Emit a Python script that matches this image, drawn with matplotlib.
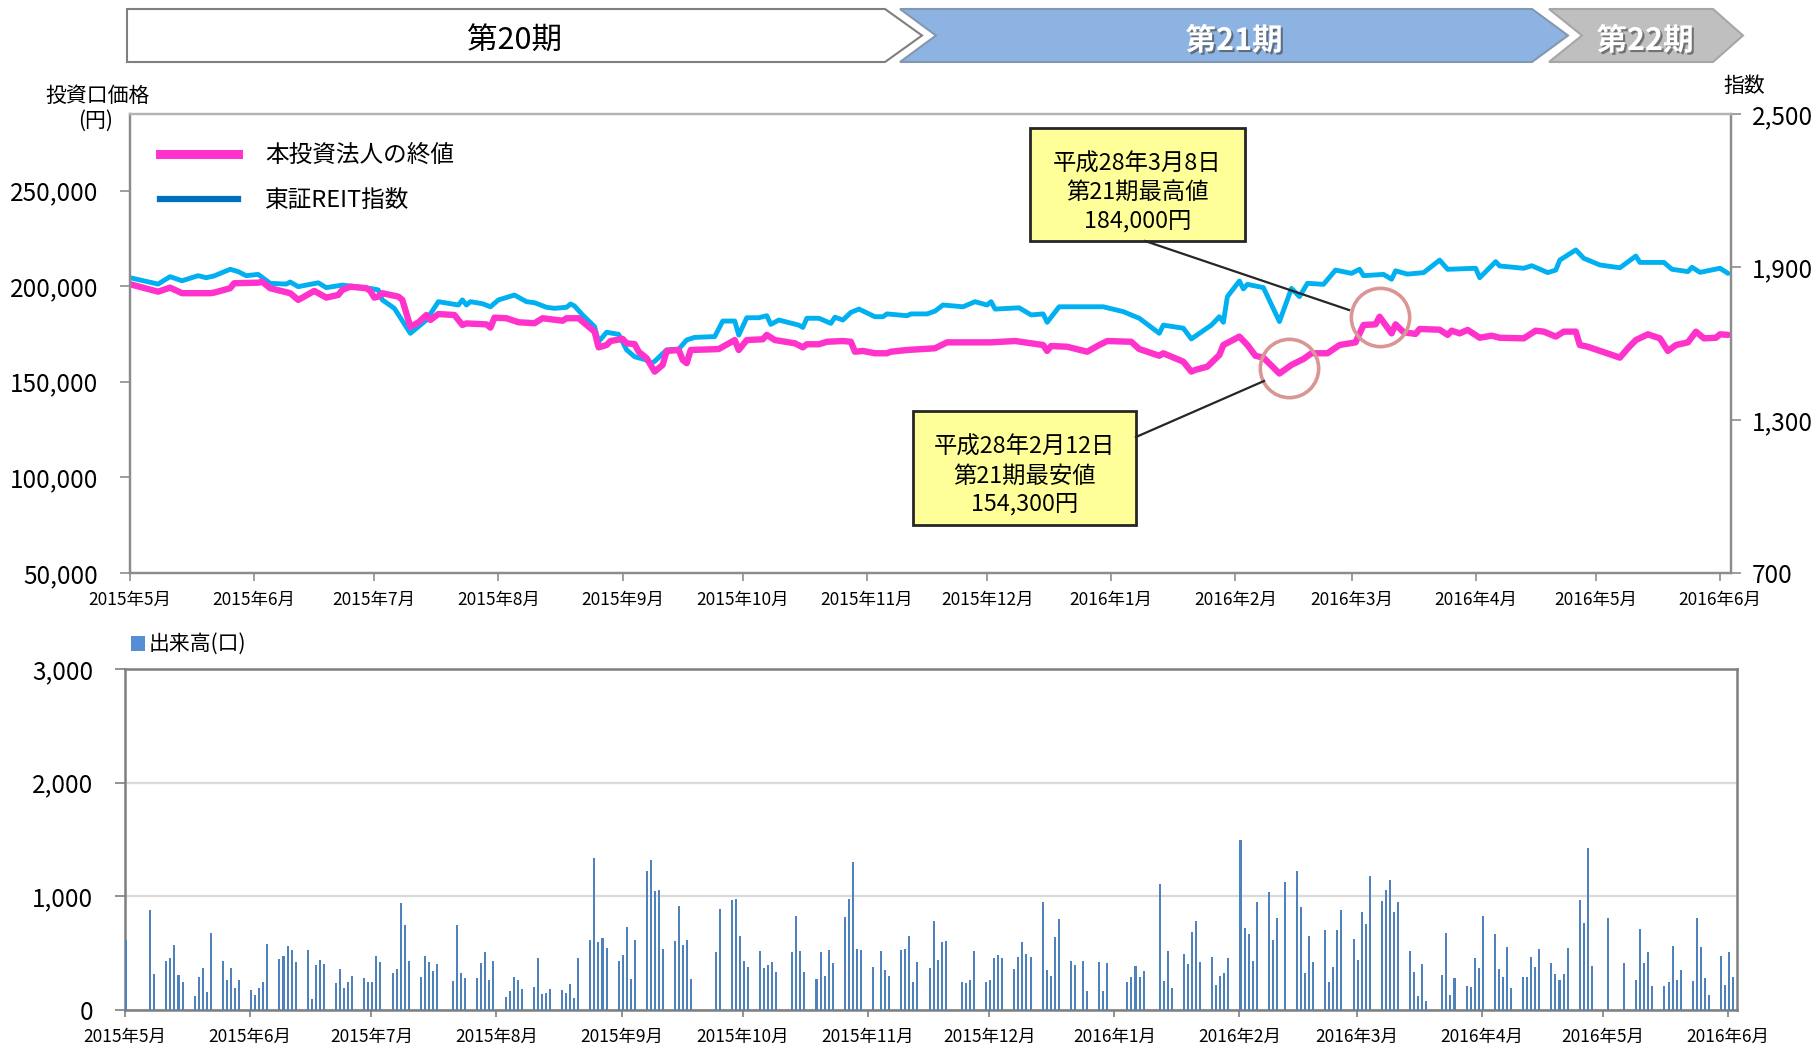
import matplotlib
matplotlib.use('Agg')
import matplotlib.pyplot as plt
import matplotlib.patheffects as pe
from matplotlib.patches import Polygon, Rectangle
from matplotlib.lines import Line2D
from matplotlib.ticker import FuncFormatter
from matplotlib.transforms import offset_copy
import pandas as pd

plt.rcParams['font.family'] = ['Noto Sans CJK JP', 'DejaVu Sans']

W, H = 1819, 1044

# 本投資法人の終値 (円)
price_dates = [
    '2015-05-01', '2015-05-08', '2015-05-11', '2015-05-14', '2015-05-21', '2015-05-22', '2015-05-26',
    '2015-05-27', '2015-06-02', '2015-06-03', '2015-06-05', '2015-06-09', '2015-06-10', '2015-06-12',
    '2015-06-13', '2015-06-16', '2015-06-19', '2015-06-22', '2015-06-23', '2015-06-25', '2015-06-29',
    '2015-06-30', '2015-07-01', '2015-07-02', '2015-07-03', '2015-07-07', '2015-07-08', '2015-07-10',
    '2015-07-12', '2015-07-14', '2015-07-15', '2015-07-17', '2015-07-21', '2015-07-23', '2015-07-24',
    '2015-07-29', '2015-07-30', '2015-07-31', '2015-08-03', '2015-08-06', '2015-08-10', '2015-08-12',
    '2015-08-17', '2015-08-18', '2015-08-21', '2015-08-25', '2015-08-26', '2015-08-28', '2015-08-29',
    '2015-09-01', '2015-09-02', '2015-09-04', '2015-09-05', '2015-09-07', '2015-09-09', '2015-09-11',
    '2015-09-12', '2015-09-15', '2015-09-16', '2015-09-17', '2015-09-18', '2015-09-25', '2015-09-29',
    '2015-09-30', '2015-10-02', '2015-10-06', '2015-10-07', '2015-10-09', '2015-10-14', '2015-10-16',
    '2015-10-17', '2015-10-20', '2015-10-22', '2015-10-26', '2015-10-28', '2015-10-29', '2015-10-31',
    '2015-11-03', '2015-11-06', '2015-11-07', '2015-11-11', '2015-11-18', '2015-11-21', '2015-12-02',
    '2015-12-08', '2015-12-15', '2015-12-16', '2015-12-17', '2015-12-21', '2015-12-26', '2015-12-29',
    '2015-12-31', '2016-01-06', '2016-01-08', '2016-01-13', '2016-01-14', '2016-01-19', '2016-01-21',
    '2016-01-22', '2016-01-25', '2016-01-28', '2016-01-29', '2016-02-02', '2016-02-04', '2016-02-06',
    '2016-02-08', '2016-02-12', '2016-02-15', '2016-02-18', '2016-02-20', '2016-02-24', '2016-02-27',
    '2016-03-02', '2016-03-04', '2016-03-07', '2016-03-08', '2016-03-11', '2016-03-12', '2016-03-14',
    '2016-03-17', '2016-03-18', '2016-03-23', '2016-03-25', '2016-03-26', '2016-03-28', '2016-03-30',
    '2016-04-02', '2016-04-05', '2016-04-07', '2016-04-13', '2016-04-16', '2016-04-18', '2016-04-21',
    '2016-04-23', '2016-04-26', '2016-04-27', '2016-04-29', '2016-05-07', '2016-05-09', '2016-05-11',
    '2016-05-14', '2016-05-17', '2016-05-19', '2016-05-21', '2016-05-24', '2016-05-26', '2016-05-28',
    '2016-05-31', '2016-06-01', '2016-06-03']
price_values = [
    201000, 197100, 199200, 196300, 196300, 196600, 198900,
    201500, 201800, 202300, 198900, 196800, 196300, 192800,
    193900, 197500, 194000, 195400, 198000, 199700, 198900,
    197500, 194000, 194500, 196300, 194500, 192800, 178800,
    181000, 184900, 182300, 185400, 184900, 179700, 180500,
    180000, 178300, 183500, 183200, 181100, 180600, 183200,
    181900, 183200, 183200, 176200, 168000, 169200, 171300,
    172400, 170100, 169700, 165700, 162300, 155300, 158800,
    166100, 166600, 161400, 159700, 166600, 167100, 171800,
    166600, 171800, 172200, 174500, 171800, 170100, 168000,
    169600, 169600, 170900, 171300, 170900, 165700, 166100,
    164900, 164900, 165700, 166600, 167500, 170600, 170600,
    171300, 169200, 166100, 168700, 168300, 165700, 169200,
    171300, 170900, 167100, 163600, 164900, 160500, 155300,
    156200, 157900, 164000, 169200, 173600, 169200, 163600,
    162600, 154300, 158800, 161900, 164900, 164900, 169200,
    170600, 179700, 180000, 184000, 175300, 180000, 175900,
    175000, 177600, 177200, 174500, 176700, 175300, 177100,
    173000, 174100, 173000, 172700, 176700, 176200, 173600,
    176200, 176200, 169200, 168300, 162600, 167500, 171800,
    174800, 172700, 166100, 169200, 170600, 176200, 172700,
    173000, 174800, 174500]

# 東証REIT指数
reit_dates = [
    '2015-05-01', '2015-05-08', '2015-05-11', '2015-05-14', '2015-05-18', '2015-05-20', '2015-05-22',
    '2015-05-26', '2015-05-28', '2015-05-30', '2015-06-02', '2015-06-05', '2015-06-09', '2015-06-10',
    '2015-06-12', '2015-06-17', '2015-06-19', '2015-06-23', '2015-06-30', '2015-07-02', '2015-07-03',
    '2015-07-06', '2015-07-10', '2015-07-14', '2015-07-17', '2015-07-22', '2015-07-23', '2015-07-24',
    '2015-07-25', '2015-07-28', '2015-07-30', '2015-08-01', '2015-08-05', '2015-08-08', '2015-08-10',
    '2015-08-13', '2015-08-15', '2015-08-18', '2015-08-19', '2015-08-20', '2015-08-22', '2015-08-25',
    '2015-08-26', '2015-08-28', '2015-08-31', '2015-09-02', '2015-09-04', '2015-09-07', '2015-09-08',
    '2015-09-09', '2015-09-12', '2015-09-15', '2015-09-17', '2015-09-19', '2015-09-24', '2015-09-26',
    '2015-09-29', '2015-09-30', '2015-10-02', '2015-10-05', '2015-10-07', '2015-10-08', '2015-10-10',
    '2015-10-15', '2015-10-16', '2015-10-17', '2015-10-20', '2015-10-23', '2015-10-24', '2015-10-26',
    '2015-10-28', '2015-10-30', '2015-11-03', '2015-11-05', '2015-11-06', '2015-11-11', '2015-11-12',
    '2015-11-16', '2015-11-18', '2015-11-20', '2015-11-25', '2015-11-28', '2015-12-01', '2015-12-02',
    '2015-12-03', '2015-12-09', '2015-12-12', '2015-12-15', '2015-12-16', '2015-12-19', '2015-12-30',
    '2016-01-04', '2016-01-08', '2016-01-13', '2016-01-14', '2016-01-19', '2016-01-21', '2016-01-26',
    '2016-01-28', '2016-01-29', '2016-01-30', '2016-02-02', '2016-02-03', '2016-02-04', '2016-02-08',
    '2016-02-12', '2016-02-15', '2016-02-17', '2016-02-19', '2016-02-23', '2016-02-26', '2016-03-01',
    '2016-03-03', '2016-03-04', '2016-03-09', '2016-03-11', '2016-03-12', '2016-03-15', '2016-03-19',
    '2016-03-23', '2016-03-25', '2016-04-01', '2016-04-02', '2016-04-06', '2016-04-07', '2016-04-13',
    '2016-04-15', '2016-04-19', '2016-04-21', '2016-04-22', '2016-04-26', '2016-04-28', '2016-05-02',
    '2016-05-07', '2016-05-11', '2016-05-12', '2016-05-18', '2016-05-20', '2016-05-24', '2016-05-25',
    '2016-05-27', '2016-06-01', '2016-06-03']
reit_values = [
    1858, 1833, 1862, 1846, 1866, 1858, 1865,
    1891, 1882, 1866, 1871, 1836, 1833, 1841,
    1823, 1838, 1819, 1829, 1816, 1810, 1771,
    1738, 1640, 1692, 1764, 1751, 1771, 1751,
    1764, 1756, 1744, 1771, 1790, 1764, 1760,
    1742, 1738, 1742, 1755, 1747, 1712, 1666,
    1607, 1644, 1636, 1575, 1548, 1535, 1522,
    1530, 1575, 1578, 1614, 1624, 1627, 1688,
    1688, 1633, 1701, 1701, 1709, 1675, 1692,
    1672, 1663, 1699, 1699, 1679, 1703, 1692,
    1722, 1735, 1705, 1705, 1716, 1709, 1716,
    1716, 1727, 1751, 1744, 1764, 1751, 1764,
    1735, 1740, 1712, 1716, 1683, 1744, 1744,
    1725, 1699, 1640, 1672, 1660, 1618, 1672,
    1705, 1683, 1784, 1845, 1814, 1832, 1819,
    1686, 1816, 1784, 1836, 1832, 1888, 1875,
    1891, 1866, 1871, 1852, 1885, 1872, 1878,
    1927, 1891, 1895, 1858, 1921, 1904, 1895,
    1905, 1878, 1888, 1927, 1967, 1934, 1908,
    1897, 1943, 1918, 1918, 1891, 1882, 1899,
    1879, 1895, 1875]

# 出来高 (口)
volume_dates = [
    '2015-05-01', '2015-05-07', '2015-05-08', '2015-05-11', '2015-05-12', '2015-05-13', '2015-05-14',
    '2015-05-15', '2015-05-18', '2015-05-19', '2015-05-20', '2015-05-21', '2015-05-22', '2015-05-25',
    '2015-05-26', '2015-05-27', '2015-05-28', '2015-05-29', '2015-06-01', '2015-06-02', '2015-06-03',
    '2015-06-04', '2015-06-05', '2015-06-08', '2015-06-09', '2015-06-10', '2015-06-11', '2015-06-12',
    '2015-06-15', '2015-06-16', '2015-06-17', '2015-06-18', '2015-06-19', '2015-06-22', '2015-06-23',
    '2015-06-24', '2015-06-25', '2015-06-26', '2015-06-29', '2015-06-30', '2015-07-01', '2015-07-02',
    '2015-07-03', '2015-07-06', '2015-07-07', '2015-07-08', '2015-07-09', '2015-07-10', '2015-07-13',
    '2015-07-14', '2015-07-15', '2015-07-16', '2015-07-17', '2015-07-21', '2015-07-22', '2015-07-23',
    '2015-07-24', '2015-07-27', '2015-07-28', '2015-07-29', '2015-07-30', '2015-07-31', '2015-08-03',
    '2015-08-04', '2015-08-05', '2015-08-06', '2015-08-07', '2015-08-10', '2015-08-11', '2015-08-12',
    '2015-08-13', '2015-08-14', '2015-08-17', '2015-08-18', '2015-08-19', '2015-08-20', '2015-08-21',
    '2015-08-24', '2015-08-25', '2015-08-26', '2015-08-27', '2015-08-28', '2015-08-31', '2015-09-01',
    '2015-09-02', '2015-09-03', '2015-09-04', '2015-09-07', '2015-09-08', '2015-09-09', '2015-09-10',
    '2015-09-11', '2015-09-14', '2015-09-15', '2015-09-16', '2015-09-17', '2015-09-18',
    '2015-09-24', '2015-09-25', '2015-09-28', '2015-09-29', '2015-09-30', '2015-10-01', '2015-10-02',
    '2015-10-05', '2015-10-06', '2015-10-07', '2015-10-08', '2015-10-09', '2015-10-13', '2015-10-14',
    '2015-10-15', '2015-10-16', '2015-10-19', '2015-10-20', '2015-10-21', '2015-10-22', '2015-10-23',
    '2015-10-26', '2015-10-27', '2015-10-28', '2015-10-29', '2015-10-30', '2015-11-02', '2015-11-04',
    '2015-11-05', '2015-11-06', '2015-11-09', '2015-11-10', '2015-11-11', '2015-11-12', '2015-11-13',
    '2015-11-16', '2015-11-17', '2015-11-18', '2015-11-19', '2015-11-20', '2015-11-24', '2015-11-25',
    '2015-11-26', '2015-11-27', '2015-11-30', '2015-12-01', '2015-12-02', '2015-12-03', '2015-12-04',
    '2015-12-07', '2015-12-08', '2015-12-09', '2015-12-10', '2015-12-11', '2015-12-14', '2015-12-15',
    '2015-12-16', '2015-12-17', '2015-12-18', '2015-12-21', '2015-12-22', '2015-12-24', '2015-12-25',
    '2015-12-28', '2015-12-29', '2015-12-30', '2016-01-04', '2016-01-05', '2016-01-06', '2016-01-07',
    '2016-01-08', '2016-01-12', '2016-01-13', '2016-01-14', '2016-01-15', '2016-01-18', '2016-01-19',
    '2016-01-20', '2016-01-21', '2016-01-22', '2016-01-25', '2016-01-26', '2016-01-27', '2016-01-28',
    '2016-01-29', '2016-02-01', '2016-02-02', '2016-02-03', '2016-02-04', '2016-02-05', '2016-02-08',
    '2016-02-09', '2016-02-10', '2016-02-12', '2016-02-15', '2016-02-16', '2016-02-17', '2016-02-18',
    '2016-02-19', '2016-02-22', '2016-02-23', '2016-02-24', '2016-02-25', '2016-02-26', '2016-02-29',
    '2016-03-01', '2016-03-02', '2016-03-03', '2016-03-04', '2016-03-07', '2016-03-08', '2016-03-09',
    '2016-03-10', '2016-03-11', '2016-03-14', '2016-03-15', '2016-03-16', '2016-03-17', '2016-03-18',
    '2016-03-22', '2016-03-23', '2016-03-24', '2016-03-25', '2016-03-28', '2016-03-29', '2016-03-30',
    '2016-03-31', '2016-04-01', '2016-04-04', '2016-04-05', '2016-04-06', '2016-04-07', '2016-04-08',
    '2016-04-11', '2016-04-12', '2016-04-13', '2016-04-14', '2016-04-15', '2016-04-18', '2016-04-19',
    '2016-04-20', '2016-04-21', '2016-04-22', '2016-04-25', '2016-04-26', '2016-04-27', '2016-04-28',
    '2016-05-02', '2016-05-06', '2016-05-09', '2016-05-10', '2016-05-11', '2016-05-12', '2016-05-13',
    '2016-05-16', '2016-05-17', '2016-05-18', '2016-05-19', '2016-05-20', '2016-05-23', '2016-05-24',
    '2016-05-25', '2016-05-26', '2016-05-27', '2016-05-30', '2016-05-31', '2016-06-01', '2016-06-02']
volume_values = [
    618, 882, 318, 435, 456, 571, 309,
    244, 124, 294, 371, 159, 676, 429,
    265, 371, 194, 265, 176, 132, 197,
    244, 582, 453, 479, 565, 529, 424,
    529, 100, 394, 441, 406, 235, 359,
    191, 247, 300, 279, 247, 244, 476,
    418, 324, 365, 941, 750, 435, 288,
    476, 418, 344, 403, 256, 750, 329,
    285, 282, 415, 506, 268, 429, 115,
    171, 294, 262, 185, 206, 459, 144,
    153, 182, 176, 147, 226, 106, 456,
    612, 1338, 600, 632, 544, 435, 482,
    726, 271, 612, 1221, 1318, 1044, 1059,
    541, 603, 918, 574, 618, 274,
    510, 890, 970, 980, 650, 430, 380,
    520, 370, 400, 420, 330, 510, 830,
    520, 330, 270, 510, 300, 530, 410,
    820, 980, 1300, 540, 530, 380, 520,
    350, 300, 530, 540, 650, 250, 420,
    370, 780, 440, 600, 610, 250, 240,
    260, 520, 250, 260, 460, 480, 460,
    360, 470, 600, 490, 470, 950, 350,
    300, 640, 800, 430, 400, 430, 170,
    426, 168, 412, 244, 294, 388, 294,
    344, 1112, 259, 515, 191, 491, 403,
    682, 785, 426, 465, 221, 300, 324,
    456, 1500, 721, 668, 435, 947, 1041,
    612, 809, 1124, 1226, 903, 329, 647,
    418, 706, 247, 382, 706, 882, 624,
    441, 865, 759, 1176, 962, 1059, 1147,
    865, 953, 521, 338, 124, 403, 82,
    306, 676, 135, 279, 212, 203, 456,
    368, 824, 671, 362, 288, 553, 191,
    288, 294, 465, 376, 538, 412, 318,
    265, 318, 544, 971, 765, 1426, 388,
    806, 412, 265, 712, 412, 509, 215,
    212, 244, 565, 265, 353, 256, 806,
    550, 285, 132, 471, 218, 506, 288]

month_ticks = pd.date_range('2015-05-01', '2016-06-01', freq='MS')
month_labels = [f'{d.year}年{d.month}月' for d in month_ticks]

periods = ['第20期', '第21期', '第22期']
high_date, high_value = '2016-03-08', 184000
low_date, low_value = '2016-02-12', 154300
high_note = '平成28年3月8日\n第21期最高値\n184,000円'
low_note = '平成28年2月12日\n第21期最安値\n154,300円'

pink = '#FF33CC'
cyan = '#00B0F0'
bar_blue = '#4F81BD'
spine_gray = '#8C8C8C'


def fx(x):
    return x / W


def fy(y):
    return 1 - y / H


def comma(v, pos):
    return f'{int(round(v)):,}'


fig = plt.figure(figsize=(W / 100, H / 100), dpi=100)

# ---- period banners ----
banners = [
    [(127, 9), (885, 9), (922, 35.5), (885, 62), (127, 62)],
    [(900, 9), (1532, 9), (1568, 35.5), (1532, 62), (900, 62), (936, 35.5)],
    [(1549, 9), (1713, 9), (1743, 35.5), (1713, 62), (1549, 62), (1582, 35.5)],
]
banner_face = ['white', '#8DB3E2', '#BFBFBF']
banner_edge = ['#7F7F7F', '#8497B0', '#A6A6A6']
banner_text_x = [515, 1234, 1645]
for pts, fc, ec, label, tx in zip(banners, banner_face, banner_edge, periods, banner_text_x):
    fig.add_artist(Polygon([(fx(x), fy(y)) for x, y in pts], closed=True,
                           facecolor=fc, edgecolor=ec, lw=1.5, transform=fig.transFigure))
    if fc == 'white':
        fig.text(fx(tx), fy(41), label, ha='center', va='center', fontsize=22, color='black')
    else:
        fig.text(fx(tx), fy(41), label, ha='center', va='center', fontsize=22, color='white',
                 fontweight='bold',
                 path_effects=[pe.SimplePatchShadow(offset=(1.5, -1.5), shadow_rgbFace='#404040', alpha=0.6),
                               pe.Normal()])

# ---- price / REIT chart ----
ax = fig.add_axes([fx(130), fy(573), (1731 - 130) / W, (573 - 114) / H])
ax2 = ax.twinx()
ax.set_zorder(ax2.get_zorder() + 1)
ax.patch.set_visible(False)

ax.plot(pd.to_datetime(price_dates), price_values, color=pink, lw=4.6,
        solid_joinstyle='round', solid_capstyle='round')
ax2.plot(pd.to_datetime(reit_dates), reit_values, color=cyan, lw=3.5,
         solid_joinstyle='round', solid_capstyle='round')

xmin, xmax = pd.Timestamp('2015-05-01'), pd.Timestamp('2016-06-03 18:00')
ax.set_xlim(xmin, xmax)
ax.set_ylim(50000, 290000)
ax.set_yticks(range(50000, 250001, 50000))
ax.yaxis.set_major_formatter(FuncFormatter(comma))
ax2.set_ylim(700, 2500)
ax2.set_yticks([700, 1300, 1900, 2500])
ax2.yaxis.set_major_formatter(FuncFormatter(comma))
ax.set_xticks(month_ticks)
ax.set_xticklabels(month_labels)

for a in (ax, ax2):
    for s in a.spines.values():
        s.set_color(spine_gray)
        s.set_linewidth(1.6)
    a.spines['top'].set_color('#B4B4B4')
ax.tick_params(axis='y', length=7, width=1.2, color=spine_gray, labelsize=17.5, pad=16)
ax2.tick_params(axis='y', length=7, width=1.2, color=spine_gray, labelsize=17.5, pad=8)
ax.tick_params(axis='x', length=6, width=1.2, color=spine_gray, labelsize=12.5, pad=7)

fig.text(fx(97), fy(96), '投資口価格', ha='center', va='center', fontsize=15)
fig.text(fx(96), fy(121), '(円)', ha='center', va='center', fontsize=15)
fig.text(fx(1744), fy(86), '指数', ha='center', va='center', fontsize=15)

handles = [Line2D([], [], color=pink, lw=6.5), Line2D([], [], color='#0070C0', lw=4.5)]
ax.legend(handles, ['本投資法人の終値', '東証REIT指数'], loc='upper left',
          bbox_to_anchor=(fx(160), fy(144)), bbox_transform=fig.transFigure,
          frameon=False, fontsize=17, handlelength=3.3, handletextpad=1.15,
          labelspacing=0.95, borderpad=0, borderaxespad=0)

# circles around the high / low
ring = dict(marker='o', ms=42, mfc='none', mec='#D99694', mew=2.6, zorder=5)
ax.plot(pd.Timestamp(high_date), high_value, **ring)
ax.plot(pd.Timestamp(low_date), low_value,
        transform=offset_copy(ax.transData, fig=fig, x=10, y=6, units='dots'), **ring)

# callout boxes
for (x0, y0, x1, y1), note in [((1030, 128, 1245, 241), high_note), ((913, 411, 1136, 525), low_note)]:
    fig.add_artist(Rectangle((fx(x0), fy(y1)), (x1 - x0) / W, (y1 - y0) / H, transform=fig.transFigure,
                             facecolor='#FFFF99', edgecolor='#262626', lw=2, zorder=6))
    fig.text(fx((x0 + x1) / 2), fy((y0 + y1) / 2 + 8), note, ha='center', va='center',
             fontsize=16.8, linespacing=1.3, zorder=7)
fig.add_artist(Line2D([fx(1145), fx(1349)], [fy(241), fy(310)], color='#262626', lw=1.6,
                      transform=fig.transFigure, zorder=6))
fig.add_artist(Line2D([fx(1136), fx(1264)], [fy(437), fy(381)], color='#262626', lw=1.6,
                      transform=fig.transFigure, zorder=6))

# ---- volume chart ----
axb = fig.add_axes([fx(125), fy(1010), (1737 - 125) / W, (1010 - 669) / H])
axb.bar(pd.to_datetime(volume_dates), volume_values, width=0.5, align='edge', color=bar_blue, zorder=3)
axb.set_xlim(pd.Timestamp('2015-05-01'), pd.Timestamp('2016-06-03 05:00'))
axb.set_ylim(0, 3000)
axb.set_yticks([0, 1000, 2000, 3000])
axb.yaxis.set_major_formatter(FuncFormatter(comma))
axb.grid(axis='y', color='#D9D9D9', lw=1.6, zorder=0)
axb.set_xticks(month_ticks)
axb.set_xticklabels(month_labels)
for s in axb.spines.values():
    s.set_color('#7F7F7F')
    s.set_linewidth(1.8)
axb.tick_params(axis='y', length=7, width=1.2, color='#7F7F7F', labelsize=17.5, pad=16)
axb.tick_params(axis='x', length=5, width=1.2, color='#7F7F7F', labelsize=12.5, pad=8)

fig.add_artist(Rectangle((fx(131), fy(651)), 14 / W, 15 / H, transform=fig.transFigure,
                         facecolor='#558ED5', edgecolor='none'))
fig.text(fx(149), fy(644), '出来高(口)', ha='left', va='center', fontsize=15)

fig.savefig('out.png', dpi=100)
